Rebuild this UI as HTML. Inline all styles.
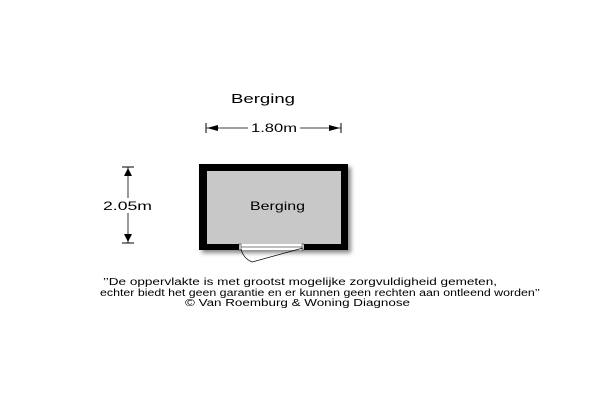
<!DOCTYPE html>
<html><head><style>
body{margin:0;width:600px;height:400px;background:#fff;overflow:hidden}
text{font-family:"Liberation Sans",Arial,sans-serif;fill:#000}
</style></head><body>
<svg width="600" height="400" viewBox="0 0 600 400">
<defs><filter id="s" x="-10%" y="-10%" width="130%" height="130%"><feGaussianBlur stdDeviation="2"/></filter></defs>
<text x="231" y="103" font-size="13" textLength="64" lengthAdjust="spacingAndGlyphs">Berging</text>
<line x1="206" y1="128" x2="341" y2="128" stroke="#000" stroke-width="0.8"/>
<line x1="206" y1="123" x2="206" y2="133" stroke="#000"/>
<line x1="341" y1="123" x2="341" y2="133" stroke="#000"/>
<polygon points="207,128 218,125 218,131"/>
<polygon points="340,128 329,125 329,131"/>
<rect x="248" y="120" width="52" height="14" fill="#fff"/>
<text x="251" y="132" font-size="12" textLength="46" lengthAdjust="spacingAndGlyphs">1.80m</text>
<line x1="128" y1="167" x2="128" y2="243" stroke="#000" stroke-width="0.8"/>
<line x1="122" y1="167" x2="134" y2="167" stroke="#000"/>
<line x1="122" y1="243" x2="134" y2="243" stroke="#000"/>
<polygon points="128,168 124,176 132,176"/>
<polygon points="128,242 124,234 132,234"/>
<rect x="102" y="198" width="52" height="15" fill="#fff"/>
<text x="103" y="210" font-size="12" textLength="49" lengthAdjust="spacingAndGlyphs">2.05m</text>
<rect x="202" y="167" width="149" height="86" fill="#888" filter="url(#s)"/>
<rect x="199" y="164" width="149" height="86" fill="#000"/>
<rect x="207" y="171" width="134" height="73" fill="#c8c8c8"/>
<rect x="240" y="244" width="63" height="6" fill="#fff"/>
<rect x="239" y="244" width="2" height="6" fill="#fff" stroke="#000" stroke-width="0.5"/>
<rect x="302" y="244" width="2" height="6" fill="#fff" stroke="#000" stroke-width="0.5"/>
<line x1="241" y1="247" x2="302" y2="247" stroke="#000" stroke-width="0.6"/>
<line x1="303" y1="248" x2="252" y2="262" stroke="#000" stroke-width="0.7"/>
<path d="M241,249 Q243,258 252,262" fill="none" stroke="#000" stroke-width="0.7"/>
<text x="250" y="210" font-size="12" textLength="55" lengthAdjust="spacingAndGlyphs">Berging</text>
<text x="103" y="285" font-size="10" textLength="394" lengthAdjust="spacingAndGlyphs">’’De oppervlakte is met grootst mogelijke zorgvuldigheid gemeten,</text>
<text x="100" y="296" font-size="10" textLength="440" lengthAdjust="spacingAndGlyphs">echter biedt het geen garantie en er kunnen geen rechten aan ontleend worden’’</text>
<text x="185" y="306" font-size="10" textLength="225" lengthAdjust="spacingAndGlyphs">© Van Roemburg &amp; Woning Diagnose</text>
</svg>
</body></html>
